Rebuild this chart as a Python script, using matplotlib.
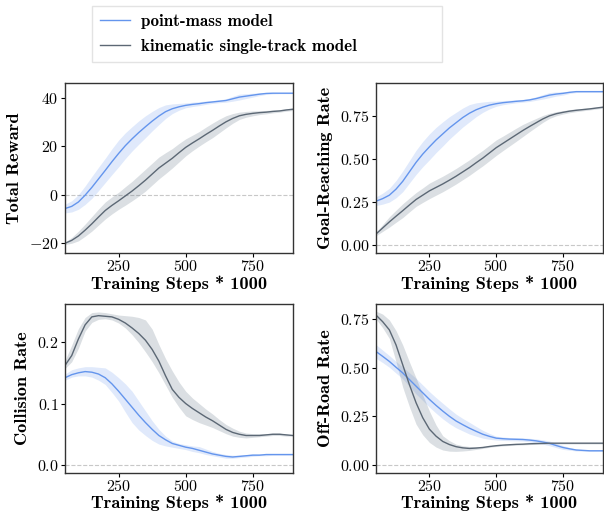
import numpy as np
import matplotlib
matplotlib.use('Agg')
import matplotlib.pyplot as plt

plt.rcParams['font.family'] = ['cmr10', 'DejaVu Serif']
plt.rcParams['mathtext.fontset'] = 'cm'
plt.rcParams['axes.formatter.use_mathtext'] = True

# training steps (* 1000)
steps = [50, 75, 100, 125, 150, 175, 200, 225, 250, 275, 300, 325, 350, 375, 400, 425, 450, 475,
         500, 525, 550, 575, 600, 625, 650, 675, 700, 725, 750, 775, 800, 825, 850, 875, 900]

# Total Reward
rew_pm = [-5.7, -4.8, -3.0, -0.2, 3.0, 6.5, 10.0, 13.6, 17.0, 20.2, 23.0, 25.6, 28.0, 30.3, 32.4, 34.2, 35.4, 36.2,
          36.8, 37.2, 37.5, 37.9, 38.2, 38.5, 38.8, 39.5, 40.2, 40.6, 41.0, 41.4, 41.7, 41.8, 41.8, 41.8, 41.8]
rew_pm_err = [1.8, 2.3, 3.0, 3.8, 4.5, 4.8, 5.0, 5.3, 5.5, 5.3, 5.0, 4.8, 4.5, 4.0, 3.5, 2.8, 2.0, 1.4,
              1.0, 0.9, 0.8, 0.7, 0.6, 0.6, 0.7, 1.0, 1.2, 1.0, 0.8, 0.6, 0.4, 0.3, 0.2, 0.2, 0.2]
rew_ks = [-20.0, -18.8, -17.0, -14.6, -12.0, -9.2, -6.5, -4.4, -2.5, -0.5, 1.5, 3.7, 6.0, 8.5, 11.0, 13.0, 15.0, 17.3,
          19.5, 21.3, 23.0, 24.8, 26.5, 28.3, 30.0, 31.4, 32.5, 33.1, 33.5, 33.8, 34.0, 34.3, 34.5, 34.9, 35.2]
rew_ks_err = [0.5, 1.2, 2.0, 2.5, 3.0, 3.3, 3.5, 3.5, 3.5, 3.8, 4.0, 4.3, 4.5, 4.5, 4.5, 4.3, 4.0, 3.8,
              3.5, 3.2, 3.0, 3.0, 3.0, 2.8, 2.5, 2.0, 1.5, 1.2, 1.0, 0.8, 0.7, 0.6, 0.5, 0.5, 0.5]

# Goal-Reaching Rate
goal_pm = [0.255, 0.27, 0.29, 0.325, 0.37, 0.425, 0.48, 0.528, 0.57, 0.61, 0.645, 0.68, 0.71, 0.74, 0.765, 0.785, 0.80, 0.812,
           0.82, 0.826, 0.83, 0.834, 0.837, 0.842, 0.85, 0.86, 0.87, 0.876, 0.88, 0.886, 0.89, 0.89, 0.89, 0.89, 0.89]
goal_pm_err = [0.025, 0.032, 0.04, 0.05, 0.06, 0.065, 0.07, 0.073, 0.075, 0.073, 0.07, 0.065, 0.06, 0.055, 0.05, 0.04, 0.03, 0.022,
               0.015, 0.012, 0.01, 0.009, 0.008, 0.009, 0.01, 0.013, 0.015, 0.012, 0.01, 0.007, 0.005, 0.004, 0.004, 0.004, 0.004]
goal_ks = [0.065, 0.10, 0.135, 0.168, 0.20, 0.233, 0.265, 0.29, 0.315, 0.335, 0.355, 0.377, 0.40, 0.425, 0.45, 0.478, 0.505, 0.535,
           0.565, 0.59, 0.615, 0.64, 0.665, 0.688, 0.71, 0.732, 0.75, 0.762, 0.77, 0.777, 0.782, 0.786, 0.79, 0.795, 0.80]
goal_ks_err = [0.01, 0.02, 0.03, 0.035, 0.04, 0.04, 0.04, 0.042, 0.045, 0.045, 0.045, 0.045, 0.045, 0.045, 0.045, 0.045, 0.045, 0.045,
               0.045, 0.042, 0.04, 0.038, 0.035, 0.03, 0.025, 0.02, 0.015, 0.012, 0.01, 0.009, 0.008, 0.007, 0.006, 0.006, 0.006]

# Collision Rate
col_pm = [0.142, 0.147, 0.150, 0.152, 0.151, 0.148, 0.142, 0.132, 0.120, 0.107, 0.094, 0.081, 0.069, 0.058, 0.048, 0.041, 0.035, 0.032,
          0.029, 0.027, 0.024, 0.021, 0.018, 0.016, 0.014, 0.013, 0.014, 0.015, 0.016, 0.016, 0.017, 0.017, 0.017, 0.017, 0.017]
col_pm_lo = [0.138, 0.143, 0.145, 0.145, 0.143, 0.138, 0.131, 0.118, 0.104, 0.086, 0.069, 0.057, 0.048, 0.040, 0.034, 0.031, 0.029, 0.027,
             0.025, 0.022, 0.020, 0.017, 0.015, 0.013, 0.011, 0.011, 0.012, 0.013, 0.014, 0.015, 0.015, 0.016, 0.016, 0.016, 0.016]
col_pm_hi = [0.148, 0.155, 0.158, 0.160, 0.160, 0.159, 0.158, 0.151, 0.142, 0.132, 0.120, 0.104, 0.088, 0.072, 0.058, 0.047, 0.039, 0.035,
             0.033, 0.031, 0.030, 0.026, 0.022, 0.019, 0.017, 0.016, 0.016, 0.017, 0.018, 0.018, 0.018, 0.018, 0.018, 0.018, 0.018]
col_ks = [0.162, 0.178, 0.205, 0.228, 0.241, 0.243, 0.242, 0.241, 0.237, 0.231, 0.223, 0.214, 0.203, 0.188, 0.169, 0.145, 0.123, 0.110,
          0.100, 0.092, 0.085, 0.078, 0.072, 0.065, 0.058, 0.053, 0.050, 0.048, 0.048, 0.048, 0.049, 0.050, 0.050, 0.049, 0.048]
col_ks_lo = [0.157, 0.168, 0.190, 0.218, 0.232, 0.237, 0.238, 0.236, 0.231, 0.223, 0.212, 0.199, 0.184, 0.168, 0.150, 0.130, 0.110, 0.094,
             0.080, 0.074, 0.069, 0.065, 0.061, 0.056, 0.051, 0.047, 0.045, 0.044, 0.045, 0.046, 0.047, 0.048, 0.048, 0.047, 0.047]
col_ks_hi = [0.170, 0.195, 0.222, 0.240, 0.248, 0.249, 0.248, 0.246, 0.244, 0.243, 0.242, 0.240, 0.236, 0.221, 0.196, 0.173, 0.153, 0.135,
             0.120, 0.109, 0.100, 0.091, 0.083, 0.074, 0.066, 0.060, 0.055, 0.052, 0.051, 0.051, 0.051, 0.052, 0.052, 0.050, 0.049]

# Off-Road Rate
off_pm = [0.583, 0.558, 0.532, 0.502, 0.473, 0.439, 0.405, 0.371, 0.337, 0.306, 0.277, 0.250, 0.226, 0.207, 0.189, 0.173, 0.158, 0.147,
          0.138, 0.135, 0.133, 0.132, 0.131, 0.128, 0.124, 0.118, 0.111, 0.100, 0.090, 0.083, 0.077, 0.075, 0.073, 0.073, 0.073]
off_pm_err = [0.035, 0.032, 0.03, 0.03, 0.03, 0.035, 0.04, 0.04, 0.04, 0.04, 0.04, 0.038, 0.035, 0.032, 0.03, 0.025, 0.02, 0.015,
              0.01, 0.009, 0.008, 0.008, 0.008, 0.009, 0.01, 0.011, 0.012, 0.011, 0.01, 0.007, 0.005, 0.004, 0.003, 0.003, 0.003]
off_ks = [0.770, 0.736, 0.694, 0.617, 0.515, 0.413, 0.320, 0.243, 0.184, 0.148, 0.121, 0.105, 0.094, 0.088, 0.085, 0.087, 0.090, 0.095,
          0.099, 0.102, 0.104, 0.106, 0.107, 0.109, 0.110, 0.111, 0.112, 0.112, 0.112, 0.112, 0.112, 0.112, 0.112, 0.112, 0.112]
off_ks_lo = [0.750, 0.705, 0.650, 0.530, 0.400, 0.300, 0.210, 0.155, 0.116, 0.092, 0.077, 0.071, 0.070, 0.072, 0.075, 0.080, 0.085, 0.091,
             0.095, 0.098, 0.100, 0.102, 0.103, 0.105, 0.106, 0.107, 0.108, 0.108, 0.108, 0.108, 0.108, 0.108, 0.108, 0.108, 0.108]
off_ks_hi = [0.790, 0.775, 0.745, 0.690, 0.617, 0.530, 0.447, 0.360, 0.277, 0.205, 0.150, 0.125, 0.107, 0.099, 0.095, 0.094, 0.095, 0.099,
             0.103, 0.106, 0.108, 0.110, 0.111, 0.113, 0.114, 0.115, 0.116, 0.116, 0.116, 0.116, 0.116, 0.116, 0.116, 0.116, 0.116]

labels = ['point-mass model', 'kinematic single-track model']
c_pm = 'cornflowerblue'
c_ks = 'slategray'
bold = ['cmb10', 'DejaVu Serif']

x = np.array(steps)
fig = plt.figure(figsize=(6.04, 5.14), dpi=100)
pos = [[0.1076, 0.5078, 0.3775, 0.3307],
       [0.6225, 0.5078, 0.3758, 0.3307],
       [0.1076, 0.0798, 0.3775, 0.3288],
       [0.6225, 0.0798, 0.3758, 0.3288]]
ylab_x = [-0.19, -0.19, -0.155, -0.19]
xlab_y = [-0.135, -0.135, -0.128, -0.128]

panels = [
    ('Total Reward', rew_pm, np.array(rew_pm) - rew_pm_err, np.array(rew_pm) + rew_pm_err,
     rew_ks, np.array(rew_ks) - rew_ks_err, np.array(rew_ks) + rew_ks_err,
     (-24, 46), [-20, 0, 20, 40], '%d'),
    ('Goal-Reaching Rate', goal_pm, np.array(goal_pm) - goal_pm_err, np.array(goal_pm) + goal_pm_err,
     goal_ks, np.array(goal_ks) - goal_ks_err, np.array(goal_ks) + goal_ks_err,
     (-0.045, 0.94), [0, 0.25, 0.5, 0.75], '%.2f'),
    ('Collision Rate', col_pm, col_pm_lo, col_pm_hi, col_ks, col_ks_lo, col_ks_hi,
     (-0.013, 0.262), [0, 0.1, 0.2], '%.1f'),
    ('Off-Road Rate', off_pm, np.array(off_pm) - off_pm_err, np.array(off_pm) + off_pm_err,
     off_ks, off_ks_lo, off_ks_hi,
     (-0.041, 0.827), [0, 0.25, 0.5, 0.75], '%.2f'),
]

for p, lx, ly, (name, m1, lo1, hi1, m2, lo2, hi2, ylim, yt, fmt) in zip(pos, ylab_x, xlab_y, panels):
    ax = fig.add_axes(p)
    ax.axhline(0, color='#c8c8c8', ls='--', lw=0.8, zorder=0)
    ax.fill_between(x, lo1, hi1, color=c_pm, alpha=0.2, lw=0)
    ax.fill_between(x, lo2, hi2, color=c_ks, alpha=0.25, lw=0)
    ax.plot(x, m1, color=c_pm, lw=1.0, label=labels[0])
    ax.plot(x, m2, color='#5c6875', lw=1.0, label=labels[1])
    ax.set_xlim(50, 900)
    ax.set_ylim(*ylim)
    ax.set_xticks([250, 500, 750])
    ax.set_yticks(yt)
    ax.set_yticklabels(['$%s$' % (fmt % v) for v in yt])
    ax.set_xticklabels(['$%d$' % v for v in [250, 500, 750]])
    ax.tick_params(labelsize=11.5, length=3, width=0.8, pad=1.5)
    ax.set_xlabel('Training Steps * 1000', family=bold, fontsize=13.2)
    ax.set_ylabel(name, family=bold, fontsize=13.2)
    ax.xaxis.set_label_coords(0.5, ly)
    ax.yaxis.set_label_coords(lx, 0.5)
    for s in ax.spines.values():
        s.set_color('#333333')
        s.set_linewidth(1.0)

h, l = ax.get_legend_handles_labels()
leg = fig.legend(h, l, loc='upper left', mode='expand', borderaxespad=0,
                 bbox_to_anchor=(92 / 604, 1 - 62 / 514, 350 / 604, 56 / 514),
                 prop={'family': bold, 'size': 12.3}, fancybox=False,
                 edgecolor='#dddddd', handlelength=1.75, handletextpad=0.65,
                 borderpad=0.45, labelspacing=0.6)
leg.get_frame().set_linewidth(1.0)

plt.savefig('out.png', dpi=100)
